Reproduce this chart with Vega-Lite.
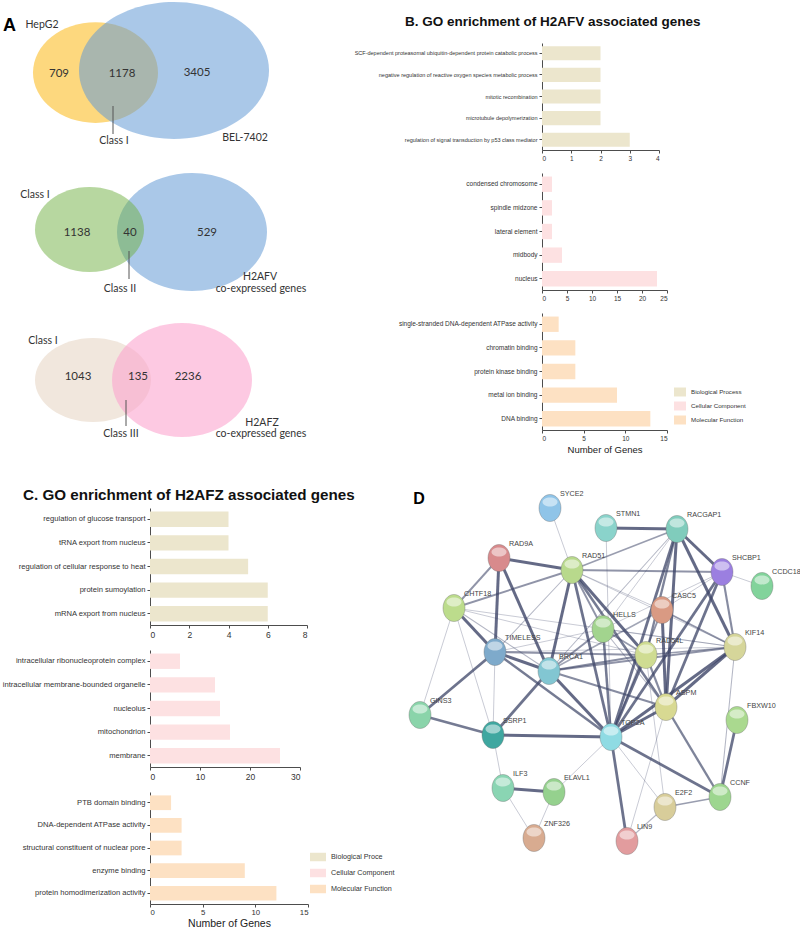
{
  "$schema": "https://vega.github.io/schema/vega-lite/v6.json",
  "padding": 0,
  "background": "white",
  "spacing": 0,
  "config": {
    "view": {"stroke": null},
    "font": "Liberation Sans",
    "axis": {"grid": false, "domainColor": "#4d4d4d", "tickColor": "#4d4d4d", "labelColor": "#333333", "titleColor": "#222222", "tickSize": 3, "labelPadding": 2, "titlePadding": 2, "titleFontWeight": "normal"},
    "legend": {"labelColor": "#333333", "symbolStrokeWidth": 0, "labelOffset": 5}
  },
  "datasets": {
    "panel_labels": [
      {"text": "A", "x": 9.5, "y": 26},
      {"text": "D", "x": 419, "y": 498}
    ],
    "venn_sets": [
      {"set": "HepG2", "cx": 95.5, "cy": 72.5},
      {"set": "BEL-7402", "cx": 174, "cy": 70.5},
      {"set": "Class I (H2AFV)", "cx": 89.5, "cy": 229.5},
      {"set": "H2AFV co-expressed genes", "cx": 192, "cy": 232},
      {"set": "Class I (H2AFZ)", "cx": 93, "cy": 380},
      {"set": "H2AFZ co-expressed genes", "cx": 182, "cy": 380}
    ],
    "venn_labels": [
      {"text": "HepG2", "x": 42, "y": 25, "kind": "name"},
      {"text": "709", "x": 59, "y": 74, "kind": "count"},
      {"text": "1178", "x": 122, "y": 74, "kind": "count"},
      {"text": "3405", "x": 197, "y": 73, "kind": "count"},
      {"text": "Class I", "x": 114, "y": 141, "kind": "name"},
      {"text": "BEL-7402", "x": 245, "y": 138, "kind": "name"},
      {"text": "Class I", "x": 35, "y": 195, "kind": "name"},
      {"text": "1138", "x": 77, "y": 233, "kind": "count"},
      {"text": "40", "x": 130, "y": 233, "kind": "count"},
      {"text": "529", "x": 207, "y": 233, "kind": "count"},
      {"text": "Class II", "x": 120, "y": 289, "kind": "name"},
      {"text": "H2AFV", "x": 260, "y": 277, "kind": "name"},
      {"text": "co-expressed genes", "x": 261, "y": 289, "kind": "name"},
      {"text": "Class I", "x": 43, "y": 341, "kind": "name"},
      {"text": "1043", "x": 78, "y": 377, "kind": "count"},
      {"text": "135", "x": 138, "y": 377, "kind": "count"},
      {"text": "2236", "x": 188, "y": 377, "kind": "count"},
      {"text": "Class III", "x": 121, "y": 434, "kind": "name"},
      {"text": "H2AFZ", "x": 262, "y": 423, "kind": "name"},
      {"text": "co-expressed genes", "x": 261, "y": 434, "kind": "name"}
    ],
    "venn_pointers": [
      {"label": "Class I", "x": 113, "y": 106, "y2": 134},
      {"label": "Class II", "x": 129, "y": 251, "y2": 279},
      {"label": "Class III", "x": 126, "y": 400, "y2": 426}
    ],
    "go_b": [
      {"term": "SCF-dependent proteasomal ubiquitin-dependent protein catabolic process", "category": "Biological Process", "genes": 2},
      {"term": "negative regulation of reactive oxygen species metabolic process", "category": "Biological Process", "genes": 2},
      {"term": "mitotic recombination", "category": "Biological Process", "genes": 2},
      {"term": "microtubule depolymerization", "category": "Biological Process", "genes": 2},
      {"term": "regulation of signal transduction by p53 class mediator", "category": "Biological Process", "genes": 3},
      {"term": "condensed chromosome", "category": "Cellular Component", "genes": 2},
      {"term": "spindle midzone", "category": "Cellular Component", "genes": 2},
      {"term": "lateral element", "category": "Cellular Component", "genes": 2},
      {"term": "midbody", "category": "Cellular Component", "genes": 4},
      {"term": "nucleus", "category": "Cellular Component", "genes": 23},
      {"term": "single-stranded DNA-dependent ATPase activity", "category": "Molecular Function", "genes": 2},
      {"term": "chromatin binding", "category": "Molecular Function", "genes": 4},
      {"term": "protein kinase binding", "category": "Molecular Function", "genes": 4},
      {"term": "metal ion binding", "category": "Molecular Function", "genes": 9},
      {"term": "DNA binding", "category": "Molecular Function", "genes": 13}
    ],
    "go_c": [
      {"term": "regulation of glucose transport", "category": "Biological Process", "genes": 4},
      {"term": "tRNA export from nucleus", "category": "Biological Process", "genes": 4},
      {"term": "regulation of cellular response to heat", "category": "Biological Process", "genes": 5},
      {"term": "protein sumoylation", "category": "Biological Process", "genes": 6},
      {"term": "mRNA export from nucleus", "category": "Biological Process", "genes": 6},
      {"term": "intracellular ribonucleoprotein complex", "category": "Cellular Component", "genes": 6},
      {"term": "intracellular membrane-bounded organelle", "category": "Cellular Component", "genes": 13},
      {"term": "nucleolus", "category": "Cellular Component", "genes": 14},
      {"term": "mitochondrion", "category": "Cellular Component", "genes": 16},
      {"term": "membrane", "category": "Cellular Component", "genes": 26},
      {"term": "PTB domain binding", "category": "Molecular Function", "genes": 2},
      {"term": "DNA-dependent ATPase activity", "category": "Molecular Function", "genes": 3},
      {"term": "structural constituent of nuclear pore", "category": "Molecular Function", "genes": 3},
      {"term": "enzyme binding", "category": "Molecular Function", "genes": 9},
      {"term": "protein homodimerization activity", "category": "Molecular Function", "genes": 12}
    ],
    "nodes": [
      {"gene": "SYCE2", "x": 550, "y": 507},
      {"gene": "STMN1", "x": 606, "y": 527},
      {"gene": "RACGAP1", "x": 677, "y": 528},
      {"gene": "RAD9A", "x": 499, "y": 557},
      {"gene": "RAD51", "x": 572, "y": 569},
      {"gene": "SHCBP1", "x": 722, "y": 571},
      {"gene": "CCDC18", "x": 762, "y": 585},
      {"gene": "CHTF18", "x": 454, "y": 607},
      {"gene": "CASC5", "x": 662, "y": 609},
      {"gene": "HELLS", "x": 603, "y": 628},
      {"gene": "KIF14", "x": 735, "y": 646},
      {"gene": "TIMELESS", "x": 495, "y": 651},
      {"gene": "RAD54L", "x": 646, "y": 654},
      {"gene": "BRCA1", "x": 549, "y": 670},
      {"gene": "ASPM", "x": 666, "y": 706},
      {"gene": "GINS3", "x": 420, "y": 714},
      {"gene": "FBXW10", "x": 737, "y": 719},
      {"gene": "SSRP1", "x": 493, "y": 734},
      {"gene": "TOP2A", "x": 611, "y": 736},
      {"gene": "ILF3", "x": 503, "y": 787},
      {"gene": "ELAVL1", "x": 554, "y": 791},
      {"gene": "CCNF", "x": 720, "y": 796},
      {"gene": "E2F2", "x": 665, "y": 806},
      {"gene": "ZNF326", "x": 534, "y": 837},
      {"gene": "LIN9", "x": 627, "y": 840}
    ],
    "edges": [
      {"source": "STMN1", "target": "RACGAP1", "score": 0.95},
      {"source": "RAD9A", "target": "RAD51", "score": 0.95},
      {"source": "RAD9A", "target": "TIMELESS", "score": 0.95},
      {"source": "RAD9A", "target": "BRCA1", "score": 0.95},
      {"source": "RAD51", "target": "BRCA1", "score": 0.95},
      {"source": "RAD51", "target": "TOP2A", "score": 0.9},
      {"source": "RAD51", "target": "RAD54L", "score": 0.95},
      {"source": "RAD51", "target": "ASPM", "score": 0.85},
      {"source": "RACGAP1", "target": "SHCBP1", "score": 0.95},
      {"source": "RACGAP1", "target": "KIF14", "score": 0.95},
      {"source": "RACGAP1", "target": "ASPM", "score": 0.95},
      {"source": "RACGAP1", "target": "TOP2A", "score": 0.9},
      {"source": "RACGAP1", "target": "RAD54L", "score": 0.8},
      {"source": "SHCBP1", "target": "ASPM", "score": 0.9},
      {"source": "SHCBP1", "target": "TOP2A", "score": 0.9},
      {"source": "CHTF18", "target": "TIMELESS", "score": 0.95},
      {"source": "TIMELESS", "target": "BRCA1", "score": 0.95},
      {"source": "TIMELESS", "target": "GINS3", "score": 0.9},
      {"source": "TIMELESS", "target": "TOP2A", "score": 0.85},
      {"source": "BRCA1", "target": "TOP2A", "score": 0.95},
      {"source": "BRCA1", "target": "SSRP1", "score": 0.9},
      {"source": "CASC5", "target": "ASPM", "score": 0.95},
      {"source": "KIF14", "target": "ASPM", "score": 0.95},
      {"source": "KIF14", "target": "TOP2A", "score": 0.95},
      {"source": "ASPM", "target": "TOP2A", "score": 0.95},
      {"source": "GINS3", "target": "SSRP1", "score": 0.85},
      {"source": "SSRP1", "target": "TOP2A", "score": 0.95},
      {"source": "TOP2A", "target": "LIN9", "score": 0.9},
      {"source": "TOP2A", "target": "CCNF", "score": 0.9},
      {"source": "ILF3", "target": "ELAVL1", "score": 0.95},
      {"source": "FBXW10", "target": "CCNF", "score": 0.9},
      {"source": "HELLS", "target": "TOP2A", "score": 0.85},
      {"source": "RAD54L", "target": "TOP2A", "score": 0.9},
      {"source": "RAD9A", "target": "CHTF18", "score": 0.7},
      {"source": "RAD51", "target": "SHCBP1", "score": 0.7},
      {"source": "RAD51", "target": "CHTF18", "score": 0.7},
      {"source": "RAD51", "target": "HELLS", "score": 0.7},
      {"source": "RAD51", "target": "RACGAP1", "score": 0.65},
      {"source": "SHCBP1", "target": "KIF14", "score": 0.75},
      {"source": "CASC5", "target": "KIF14", "score": 0.7},
      {"source": "CASC5", "target": "TOP2A", "score": 0.7},
      {"source": "HELLS", "target": "BRCA1", "score": 0.7},
      {"source": "BRCA1", "target": "RAD54L", "score": 0.75},
      {"source": "BRCA1", "target": "KIF14", "score": 0.7},
      {"source": "BRCA1", "target": "ASPM", "score": 0.75},
      {"source": "TIMELESS", "target": "RAD54L", "score": 0.7},
      {"source": "RAD54L", "target": "ASPM", "score": 0.75},
      {"source": "ASPM", "target": "CCNF", "score": 0.8},
      {"source": "E2F2", "target": "CCNF", "score": 0.65},
      {"source": "HELLS", "target": "RAD54L", "score": 0.65},
      {"source": "CASC5", "target": "BRCA1", "score": 0.6},
      {"source": "RAD54L", "target": "KIF14", "score": 0.65},
      {"source": "SYCE2", "target": "RAD51", "score": 0.45},
      {"source": "STMN1", "target": "TOP2A", "score": 0.45},
      {"source": "RACGAP1", "target": "HELLS", "score": 0.45},
      {"source": "RACGAP1", "target": "BRCA1", "score": 0.5},
      {"source": "RAD51", "target": "TIMELESS", "score": 0.5},
      {"source": "RAD51", "target": "CASC5", "score": 0.45},
      {"source": "RAD51", "target": "KIF14", "score": 0.45},
      {"source": "SHCBP1", "target": "CCDC18", "score": 0.45},
      {"source": "SHCBP1", "target": "CASC5", "score": 0.45},
      {"source": "SHCBP1", "target": "HELLS", "score": 0.45},
      {"source": "CHTF18", "target": "GINS3", "score": 0.45},
      {"source": "CHTF18", "target": "BRCA1", "score": 0.5},
      {"source": "CHTF18", "target": "RAD54L", "score": 0.45},
      {"source": "CHTF18", "target": "SSRP1", "score": 0.45},
      {"source": "CHTF18", "target": "KIF14", "score": 0.45},
      {"source": "HELLS", "target": "TIMELESS", "score": 0.45},
      {"source": "HELLS", "target": "KIF14", "score": 0.45},
      {"source": "HELLS", "target": "ASPM", "score": 0.5},
      {"source": "TIMELESS", "target": "SSRP1", "score": 0.45},
      {"source": "TIMELESS", "target": "KIF14", "score": 0.45},
      {"source": "SSRP1", "target": "ILF3", "score": 0.45},
      {"source": "TOP2A", "target": "ELAVL1", "score": 0.45},
      {"source": "TOP2A", "target": "E2F2", "score": 0.45},
      {"source": "ILF3", "target": "ZNF326", "score": 0.45},
      {"source": "ELAVL1", "target": "ZNF326", "score": 0.45},
      {"source": "E2F2", "target": "LIN9", "score": 0.5},
      {"source": "LIN9", "target": "ASPM", "score": 0.45},
      {"source": "E2F2", "target": "RAD54L", "score": 0.45},
      {"source": "KIF14", "target": "CCNF", "score": 0.5}
    ]
  },
  "vconcat": [
    {
      "spacing": 5,
      "hconcat": [
        {
          "width": 192,
          "height": 444,
          "encoding": {
            "x": {"field": "cx", "type": "quantitative", "scale": {"domain": [150, 342], "nice": false, "zero": false}, "axis": null},
            "y": {"field": "cy", "type": "quantitative", "scale": {"domain": [43, 487], "nice": false, "zero": false, "reverse": true}, "axis": null}
          },
          "layer": [
            {"data": {"name": "venn_sets"}, "transform": [{"filter": "datum.set === 'HepG2'"}],
             "mark": {"type": "point", "filled": true, "opacity": 1, "color": "#fdd87e", "strokeWidth": 0, "size": 15625, "shape": "M -1 0 C -1 -0.445 -0.552 -0.806 0 -0.806 C 0.552 -0.806 1 -0.445 1 0 C 1 0.445 0.552 0.806 0 0.806 C -0.552 0.806 -1 0.445 -1 0 Z"}},
            {"data": {"name": "venn_sets"}, "transform": [{"filter": "datum.set === 'BEL-7402'"}],
             "mark": {"type": "point", "filled": true, "opacity": 0.55, "color": "#649bd5", "strokeWidth": 0, "size": 36100, "shape": "M -1 0 C -1 -0.398 -0.552 -0.72 0 -0.72 C 0.552 -0.72 1 -0.398 1 0 C 1 0.398 0.552 0.72 0 0.72 C -0.552 0.72 -1 0.398 -1 0 Z"}},
            {"data": {"name": "venn_sets"}, "transform": [{"filter": "datum.set === 'H2AFV co-expressed genes'"}],
             "mark": {"type": "point", "filled": true, "opacity": 1, "color": "#aac8e8", "strokeWidth": 0, "size": 22500, "shape": "M -1 0 C -1 -0.435 -0.552 -0.787 0 -0.787 C 0.552 -0.787 1 -0.435 1 0 C 1 0.435 0.552 0.787 0 0.787 C -0.552 0.787 -1 0.435 -1 0 Z"}},
            {"data": {"name": "venn_sets"}, "transform": [{"filter": "datum.set === 'Class I (H2AFV)'"}],
             "mark": {"type": "point", "filled": true, "opacity": 0.5, "color": "#6faf41", "strokeWidth": 0, "size": 11881, "shape": "M -1 0 C -1 -0.431 -0.552 -0.78 0 -0.78 C 0.552 -0.78 1 -0.431 1 0 C 1 0.431 0.552 0.78 0 0.78 C -0.552 0.78 -1 0.431 -1 0 Z"}},
            {"data": {"name": "venn_sets"}, "transform": [{"filter": "datum.set === 'Class I (H2AFZ)'"}],
             "mark": {"type": "point", "filled": true, "opacity": 1, "color": "#f1e7dd", "strokeWidth": 0, "size": 13456, "shape": "M -1 0 C -1 -0.4 -0.552 -0.724 0 -0.724 C 0.552 -0.724 1 -0.4 1 0 C 1 0.4 0.552 0.724 0 0.724 C -0.552 0.724 -1 0.4 -1 0 Z"}},
            {"data": {"name": "venn_sets"}, "transform": [{"filter": "datum.set === 'H2AFZ co-expressed genes'"}],
             "mark": {"type": "point", "filled": true, "opacity": 0.6, "color": "#fba5cf", "strokeWidth": 0, "size": 19600, "shape": "M -1 0 C -1 -0.45 -0.552 -0.814 0 -0.814 C 0.552 -0.814 1 -0.45 1 0 C 1 0.45 0.552 0.814 0 0.814 C -0.552 0.814 -1 0.45 -1 0 Z"}},
            {"data": {"name": "venn_pointers"},
             "mark": {"type": "rule", "color": "#555555", "strokeWidth": 1},
             "encoding": {"x": {"field": "x", "type": "quantitative"}, "y": {"field": "y", "type": "quantitative"}, "y2": {"field": "y2"}}},
            {"data": {"name": "venn_labels"}, "transform": [{"filter": "datum.kind === 'count'"}],
             "mark": {"type": "text", "font": "Lato", "fontSize": 11.5, "color": "#333333", "align": "center", "baseline": "middle"},
             "encoding": {"x": {"field": "x", "type": "quantitative"}, "y": {"field": "y", "type": "quantitative"}, "text": {"field": "text"}}},
            {"data": {"name": "venn_labels"}, "transform": [{"filter": "datum.kind === 'name'"}],
             "mark": {"type": "text", "font": "Lato", "fontSize": 10.5, "color": "#333333", "align": "center", "baseline": "middle"},
             "encoding": {"x": {"field": "x", "type": "quantitative"}, "y": {"field": "y", "type": "quantitative"}, "text": {"field": "text"}}},
            {"data": {"name": "panel_labels"}, "transform": [{"filter": "datum.text === 'A'"}],
             "mark": {"type": "text", "font": "Liberation Sans", "fontWeight": "bold", "fontSize": 18, "color": "#000000", "align": "center", "baseline": "middle"},
             "encoding": {"x": {"field": "x", "type": "quantitative"}, "y": {"field": "y", "type": "quantitative"}, "text": {"field": "text"}}}
          ]
        },
        {
          "bounds": "flush",
          "spacing": 23,
          "resolve": {"scale": {"x": "independent", "y": "independent", "color": "independent"}, "legend": {"color": "independent"}},
          "vconcat": [
            {
              "data": {"name": "go_b"},
              "transform": [{"filter": "datum.category === 'Biological Process'"}],
              "width": 117,
              "height": 107,
              "title": {"text": ["", "B. GO enrichment of H2AFV associated genes"], "anchor": "start", "frame": "group", "dx": -137, "font": "Liberation Sans", "fontSize": 13.5, "fontWeight": "bold", "lineHeight": 15, "offset": 14.5, "color": "#111111"},
              "mark": {"type": "bar"},
              "encoding": {
                "y": {"field": "term", "type": "nominal", "sort": null, "scale": {"paddingInner": 0.35, "paddingOuter": 0.15}, "axis": {"title": null, "labelFontSize": 5.5, "labelLimit": 400, "minExtent": 195, "maxExtent": 195, "titlePadding": 0}},
                "x": {"field": "genes", "type": "quantitative", "scale": {"domain": [0, 4], "nice": false}, "axis": {"title": null, "values": [0, 1, 2, 3, 4], "labelFontSize": 6.5}},
                "color": {"field": "category", "type": "nominal", "scale": {"domain": ["Biological Process", "Cellular Component", "Molecular Function"], "range": ["#ece6cd", "#fde1e2", "#fde1c3"]}, "legend": null}
              }
            },
            {
              "data": {"name": "go_b"},
              "transform": [{"filter": "datum.category === 'Cellular Component'"}],
              "width": 125,
              "height": 117,
              "mark": {"type": "bar"},
              "encoding": {
                "y": {"field": "term", "type": "nominal", "sort": null, "scale": {"paddingInner": 0.35, "paddingOuter": 0.15}, "axis": {"title": null, "labelFontSize": 6.5, "labelLimit": 400, "minExtent": 195, "maxExtent": 195, "titlePadding": 0}},
                "x": {"field": "genes", "type": "quantitative", "scale": {"domain": [0, 25], "nice": false}, "axis": {"title": null, "values": [0, 5, 10, 15, 20, 25], "labelFontSize": 6.5}},
                "color": {"field": "category", "type": "nominal", "scale": {"domain": ["Biological Process", "Cellular Component", "Molecular Function"], "range": ["#ece6cd", "#fde1e2", "#fde1c3"]}, "legend": null}
              }
            },
            {
              "data": {"name": "go_b"},
              "transform": [{"filter": "datum.category === 'Molecular Function'"}],
              "width": 125,
              "height": 117,
              "mark": {"type": "bar"},
              "encoding": {
                "y": {"field": "term", "type": "nominal", "sort": null, "scale": {"paddingInner": 0.35, "paddingOuter": 0.15}, "axis": {"title": null, "labelFontSize": 6.5, "labelLimit": 400, "minExtent": 195, "maxExtent": 195, "titlePadding": 0}},
                "x": {"field": "genes", "type": "quantitative", "scale": {"domain": [0, 15], "nice": false}, "axis": {"title": "Number of Genes", "values": [0, 5, 10, 15], "labelFontSize": 6.5, "titleFontSize": 9.5, "titlePadding": 3}},
                "color": {"field": "category", "type": "nominal", "scale": {"domain": ["Biological Process", "Cellular Component", "Molecular Function"], "range": ["#ece6cd", "#fde1e2", "#fde1c3"]},
                  "legend": {"orient": "none", "legendX": 132, "legendY": 73, "title": null, "symbolType": "M -1 -0.75 L 1 -0.75 L 1 0.75 L -1 0.75 Z", "symbolSize": 144, "rowPadding": 3, "labelFontSize": 6.2, "symbolOpacity": 1}}
              }
            }
          ]
        }
      ]
    },
    {
      "spacing": 5,
      "hconcat": [
        {
          "bounds": "flush",
          "spacing": 25,
          "resolve": {"scale": {"x": "independent", "y": "independent", "color": "independent"}, "legend": {"color": "independent"}},
          "vconcat": [
            {
              "data": {"name": "go_c"},
              "transform": [{"filter": "datum.category === 'Biological Process'"}],
              "width": 157,
              "height": 117,
              "title": {"text": "C. GO enrichment of H2AFZ associated genes", "anchor": "start", "frame": "group", "dx": -127, "font": "Liberation Sans", "fontSize": 15.2, "fontWeight": "bold", "offset": 5, "color": "#111111"},
              "mark": {"type": "bar"},
              "encoding": {
                "y": {"field": "term", "type": "nominal", "sort": null, "scale": {"paddingInner": 0.35, "paddingOuter": 0.15}, "axis": {"title": null, "labelFontSize": 7.6, "labelLimit": 400, "minExtent": 150, "maxExtent": 150, "titlePadding": 0}},
                "x": {"field": "genes", "type": "quantitative", "scale": {"domain": [0, 8], "nice": false}, "axis": {"title": null, "values": [0, 2, 4, 6, 8], "labelFontSize": 8.5}},
                "color": {"field": "category", "type": "nominal", "scale": {"domain": ["Biological Process", "Cellular Component", "Molecular Function"], "range": ["#ece6cd", "#fde1e2", "#fde1c3"]}, "legend": null}
              }
            },
            {
              "data": {"name": "go_c"},
              "transform": [{"filter": "datum.category === 'Cellular Component'"}],
              "width": 150,
              "height": 117,
              "mark": {"type": "bar"},
              "encoding": {
                "y": {"field": "term", "type": "nominal", "sort": null, "scale": {"paddingInner": 0.35, "paddingOuter": 0.15}, "axis": {"title": null, "labelFontSize": 7.6, "labelLimit": 400, "minExtent": 150, "maxExtent": 150, "titlePadding": 0}},
                "x": {"field": "genes", "type": "quantitative", "scale": {"domain": [0, 30], "nice": false}, "axis": {"title": null, "values": [0, 10, 20, 30], "labelFontSize": 8.5}},
                "color": {"field": "category", "type": "nominal", "scale": {"domain": ["Biological Process", "Cellular Component", "Molecular Function"], "range": ["#ece6cd", "#fde1e2", "#fde1c3"]}, "legend": null}
              }
            },
            {
              "data": {"name": "go_c"},
              "transform": [{"filter": "datum.category === 'Molecular Function'"}],
              "width": 158,
              "height": 112,
              "mark": {"type": "bar"},
              "encoding": {
                "y": {"field": "term", "type": "nominal", "sort": null, "scale": {"paddingInner": 0.35, "paddingOuter": 0.15}, "axis": {"title": null, "labelFontSize": 7.6, "labelLimit": 400, "minExtent": 150, "maxExtent": 150, "titlePadding": 0}},
                "x": {"field": "genes", "type": "quantitative", "scale": {"domain": [0, 15], "nice": false}, "axis": {"title": "Number of Genes", "values": [0, 5, 10, 15], "labelFontSize": 7.8, "labelPadding": 1, "titleFontSize": 10.5, "titleBaseline": "alphabetic", "titleY": 22}},
                "color": {"field": "category", "type": "nominal", "scale": {"domain": ["Biological Process", "Cellular Component", "Molecular Function"], "range": ["#ece6cd", "#fde1e2", "#fde1c3"]},
                  "legend": {"orient": "none", "legendX": 160, "legendY": 57, "title": null, "symbolType": "M -1 -0.53 L 1 -0.53 L 1 0.53 L -1 0.53 Z", "symbolSize": 256, "rowPadding": 3, "labelFontSize": 7.2, "symbolOpacity": 1, "labelExpr": "datum.label === 'Biological Process' ? 'Biological Proce' : datum.label"}}
              }
            }
          ]
        },
        {
          "width": 400,
          "height": 422,
          "layer": [
            {
              "data": {"name": "edges"},
              "transform": [
                {"lookup": "source", "from": {"data": {"name": "nodes"}, "key": "gene", "fields": ["x", "y"]}, "as": ["sx", "sy"]},
                {"lookup": "target", "from": {"data": {"name": "nodes"}, "key": "gene", "fields": ["x", "y"]}, "as": ["tx", "ty"]}
              ],
              "mark": {"type": "rule", "color": "#3e4668"},
              "encoding": {
                "x": {"field": "sx", "type": "quantitative", "scale": {"domain": [400, 800], "nice": false, "zero": false}, "axis": null},
                "y": {"field": "sy", "type": "quantitative", "scale": {"domain": [507, 929], "nice": false, "zero": false, "reverse": true}, "axis": null},
                "x2": {"field": "tx"},
                "y2": {"field": "ty"},
                "strokeWidth": {"field": "score", "type": "quantitative", "scale": {"domain": [0.4, 1], "range": [0.6, 3.2]}, "legend": null},
                "opacity": {"field": "score", "type": "quantitative", "scale": {"domain": [0.4, 1], "range": [0.3, 0.85]}, "legend": null}
              }
            },
            {
              "data": {"name": "nodes"},
              "mark": {"type": "point", "filled": true, "opacity": 1, "size": 484, "stroke": "#666666", "strokeWidth": 0.7, "strokeOpacity": 0.5, "shape": "M -1 0 C -1 -0.68 -0.552 -1.23 0 -1.23 C 0.552 -1.23 1 -0.68 1 0 C 1 0.68 0.552 1.23 0 1.23 C -0.552 1.23 -1 0.68 -1 0 Z"},
              "encoding": {
                "x": {"field": "x", "type": "quantitative"},
                "y": {"field": "y", "type": "quantitative"},
                "color": {"field": "gene", "type": "nominal", "legend": null, "scale": {
                  "domain": ["SYCE2", "STMN1", "RACGAP1", "RAD9A", "RAD51", "SHCBP1", "CCDC18", "CHTF18", "CASC5", "HELLS", "KIF14", "TIMELESS", "RAD54L", "BRCA1", "ASPM", "GINS3", "FBXW10", "SSRP1", "TOP2A", "ILF3", "ELAVL1", "CCNF", "E2F2", "ZNF326", "LIN9"],
                  "range": ["#8fc4e8", "#8ad3cb", "#80ccbc", "#d88a8c", "#b8d98c", "#9b7fe0", "#82d39b", "#bcdc8c", "#d99a83", "#a2d48e", "#d6d69a", "#7eaacb", "#cfdc92", "#82c6d2", "#d8d992", "#8ad4aa", "#aad98f", "#3fa7a0", "#8fdbe3", "#8ad5b3", "#95d18e", "#9dd68f", "#d8cd9a", "#d8ab90", "#e29c9e"]}}
              }
            },
            {
              "data": {"name": "nodes"},
              "mark": {"type": "point", "filled": true, "color": "white", "opacity": 0.5, "size": 225, "yOffset": -6, "strokeWidth": 0, "shape": "M -1 0 C -1 -0.331 -0.552 -0.6 0 -0.6 C 0.552 -0.6 1 -0.331 1 0 C 1 0.331 0.552 0.6 0 0.6 C -0.552 0.6 -1 0.331 -1 0 Z"},
              "encoding": {"x": {"field": "x", "type": "quantitative"}, "y": {"field": "y", "type": "quantitative"}}
            },
            {
              "data": {"name": "nodes"},
              "mark": {"type": "text", "align": "left", "baseline": "middle", "dx": 10, "dy": -14, "font": "Liberation Sans", "fontSize": 7.2, "color": "#444444"},
              "encoding": {"x": {"field": "x", "type": "quantitative"}, "y": {"field": "y", "type": "quantitative"}, "text": {"field": "gene"}}
            },
            {
              "data": {"name": "panel_labels"},
              "transform": [{"filter": "datum.text === 'D'"}],
              "mark": {"type": "text", "font": "Liberation Sans", "fontWeight": "bold", "fontSize": 16, "color": "#000000", "align": "center", "baseline": "middle"},
              "encoding": {"x": {"field": "x", "type": "quantitative"}, "y": {"field": "y", "type": "quantitative"}, "text": {"field": "text"}}
            }
          ]
        }
      ]
    }
  ]
}
